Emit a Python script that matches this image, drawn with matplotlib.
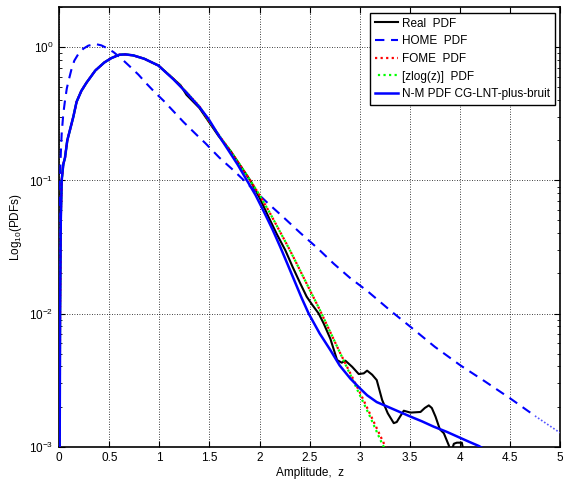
import numpy as np
import matplotlib
matplotlib.use("Agg")
import matplotlib.pyplot as plt
from matplotlib.ticker import LogLocator, FixedLocator, FuncFormatter

plt.rcParams['font.family'] = ['Liberation Sans', 'DejaVu Sans']
plt.rcParams['mathtext.fontset'] = 'custom'
plt.rcParams['mathtext.rm'] = 'Liberation Sans'
plt.rcParams['mathtext.it'] = 'Liberation Sans:italic'

# ---------------- data ----------------
real_x = [0.004, 0.008, 0.015, 0.024, 0.04, 0.057, 0.08, 0.107, 0.14, 0.173, 0.22, 0.27,
          0.36, 0.45, 0.52, 0.60, 0.66, 0.74, 0.85, 0.99, 1.14, 1.21, 1.27, 1.40, 1.49,
          1.59, 1.707, 1.80, 1.907, 2.0, 2.09, 2.17, 2.257, 2.33, 2.407, 2.47, 2.52,
          2.59, 2.64, 2.707, 2.774, 2.82, 2.857, 2.924, 2.99, 3.04, 3.074, 3.124, 3.17,
          3.224, 3.28, 3.34, 3.37, 3.39, 3.44, 3.507, 3.607, 3.65, 3.69, 3.72, 3.757,
          3.80, 3.84, 3.89, 3.91, 3.94, 3.97, 4.02, 4.04]
real_y = [0.001, 0.01, 0.05, 0.1, 0.132, 0.148, 0.2, 0.24, 0.30, 0.39, 0.47, 0.54,
          0.67, 0.77, 0.83, 0.88, 0.885, 0.87, 0.82, 0.73, 0.58, 0.52, 0.44, 0.35, 0.278,
          0.216, 0.168, 0.132, 0.10, 0.0741, 0.0531, 0.0398, 0.0299, 0.0224, 0.0168, 0.0134, 0.0118,
          0.0100, 0.00842, 0.00646, 0.00447, 0.00427, 0.00442, 0.00398, 0.00351, 0.00355, 0.00372, 0.00347, 0.00316,
          0.00224, 0.00178, 0.0015, 0.00153, 0.00162, 0.00186, 0.0018, 0.00182, 0.00195, 0.00204, 0.00195, 0.00168,
          0.00135, 0.00126, 0.00102, 0.00089, 0.00105, 0.00107, 0.00107, 0.00089]

home_x = [0.001, 0.003, 0.005, 0.007, 0.015, 0.024, 0.04, 0.057, 0.075, 0.09, 0.12, 0.15,
          0.19, 0.24, 0.29, 0.36, 0.42, 0.474, 0.54, 0.607, 0.70, 0.79, 0.874, 0.957,
          1.04, 1.14, 1.24, 1.374, 1.457, 1.6, 1.74, 1.9, 2.074, 2.25, 2.407, 2.58,
          2.74, 2.9, 3.074, 3.2, 3.307, 3.507, 3.75, 4.007, 4.25, 4.507, 4.75, 5.0]
home_y = [0.001, 0.01, 0.0398, 0.1, 0.158, 0.224, 0.316, 0.398, 0.49, 0.55, 0.676, 0.794,
          0.891, 0.977, 1.03, 1.06, 1.035, 0.989, 0.923, 0.841, 0.724, 0.624, 0.531, 0.457,
          0.398, 0.331, 0.275, 0.219, 0.191, 0.148, 0.119, 0.0912, 0.0684, 0.0519, 0.0403, 0.0309,
          0.0237, 0.0186, 0.0148, 0.0123, 0.0105, 0.00794, 0.00562, 0.00407, 0.00309, 0.00229, 0.0017, 0.00127]

fome_x = [0.004, 0.008, 0.015, 0.024, 0.04, 0.057, 0.08, 0.107, 0.14, 0.173, 0.22, 0.27,
          0.36, 0.45, 0.52, 0.60, 0.66, 0.74, 0.85, 0.99, 1.14, 1.27, 1.40, 1.5, 1.6,
          1.7, 1.8, 1.9, 2.0, 2.1, 2.2, 2.3, 2.4, 2.5, 2.6, 2.7, 2.8, 2.9, 3.0, 3.1,
          3.2, 3.3]
fome_y = [0.001, 0.01, 0.05, 0.1, 0.132, 0.148, 0.2, 0.24, 0.30, 0.39, 0.47, 0.54,
          0.67, 0.77, 0.83, 0.88, 0.885, 0.87, 0.82, 0.73, 0.58, 0.46, 0.36, 0.275, 0.216,
          0.170, 0.132, 0.102, 0.0776, 0.0575, 0.0417, 0.0302, 0.0214, 0.0151, 0.0107, 0.00741, 0.00513,
          0.00363, 0.00257, 0.00178, 0.00123, 0.00085]

zlog_x = [0.004, 0.008, 0.015, 0.024, 0.04, 0.057, 0.08, 0.107, 0.14, 0.173, 0.22, 0.27,
          0.36, 0.45, 0.52, 0.60, 0.66, 0.74, 0.85, 0.99, 1.14, 1.27, 1.40, 1.5, 1.6,
          1.7, 1.8, 1.9, 2.0, 2.1, 2.2, 2.3, 2.4, 2.5, 2.6, 2.7, 2.8, 2.9, 3.0, 3.1,
          3.2, 3.27]
zlog_y = [0.001, 0.01, 0.05, 0.1, 0.132, 0.148, 0.2, 0.24, 0.30, 0.39, 0.47, 0.54,
          0.67, 0.77, 0.83, 0.88, 0.885, 0.87, 0.82, 0.73, 0.58, 0.46, 0.36, 0.275, 0.216,
          0.170, 0.132, 0.102, 0.0776, 0.0575, 0.0417, 0.0302, 0.0214, 0.0151, 0.0107, 0.00741, 0.00513,
          0.00355, 0.00245, 0.0017, 0.00115, 0.00089]

nm_x = [0.004, 0.008, 0.015, 0.024, 0.04, 0.057, 0.08, 0.107, 0.14, 0.173, 0.22, 0.27,
        0.36, 0.45, 0.52, 0.60, 0.66, 0.74, 0.85, 0.99, 1.14, 1.27, 1.40, 1.49, 1.59,
        1.69, 1.78, 1.874, 1.96, 2.04, 2.13, 2.207, 2.28, 2.357, 2.42, 2.49, 2.60,
        2.707, 2.80, 2.907, 3.0, 3.074, 3.17, 3.274, 3.40, 3.507, 3.62, 3.74, 3.87,
        4.007, 4.10, 4.19, 4.22]
nm_y = [0.001, 0.01, 0.05, 0.1, 0.132, 0.148, 0.2, 0.24, 0.30, 0.39, 0.47, 0.54,
        0.67, 0.77, 0.83, 0.88, 0.885, 0.87, 0.82, 0.73, 0.575, 0.457, 0.355, 0.290, 0.219,
        0.168, 0.132, 0.10, 0.0776, 0.0589, 0.0427, 0.0316, 0.0234, 0.0170, 0.0131, 0.010, 0.00708,
        0.00531, 0.00407, 0.00324, 0.00275, 0.00243, 0.00216, 0.002, 0.00182, 0.00168, 0.00155, 0.00141, 0.00129,
        0.00116, 0.00108, 0.00101, 0.00098]

labels = ['Real  PDF', 'HOME  PDF', 'FOME  PDF', '[zlog(z)]  PDF', 'N-M PDF CG-LNT-plus-bruit']
x_ticks = [0, 0.5, 1, 1.5, 2, 2.5, 3, 3.5, 4, 4.5, 5]
y_ticks = [1e-3, 1e-2, 1e-1, 1e0]

# ---------------- figure ----------------
fig = plt.figure(figsize=(5.64, 4.83), dpi=100)
ax = fig.add_axes([0.1051, 0.0754, 0.8878, 0.9095])
ax.set_yscale('log')

blue = '#0000ff'
ax.plot(real_x, real_y, color='black', lw=1.5, label=labels[0], zorder=3)
hx = np.array(home_x); hy = np.array(home_y)
m1 = hx <= 4.75
m2 = hx >= 4.75
ax.plot(hx[m1], hy[m1], color=blue, lw=1.5, ls=(0, (4.5, 3.2)), label=labels[1], zorder=3)
ax.plot(hx[m2], hy[m2], color='#5555ff', lw=1.2, ls=(0, (1, 1.2)), zorder=3)
ax.plot(fome_x, fome_y, color='#ff0000', lw=1.6, ls=(0, (1, 1.5)), label=labels[2], zorder=3)
ax.plot(zlog_x, zlog_y, color='#00ff00', lw=1.6, ls=(1.2, (1, 1.5)), label=labels[3], zorder=3)
ax.plot(nm_x, nm_y, color=blue, lw=1.8, label=labels[4], zorder=4)

ax.set_xlim(0, 5)
ax.set_ylim(1e-3, 2)

ax.xaxis.set_major_locator(FixedLocator(x_ticks))
ax.set_xticklabels([('%g' % t) for t in x_ticks])
ax.yaxis.set_major_locator(FixedLocator(y_ticks))
ax.yaxis.set_minor_locator(LogLocator(base=10, subs=np.arange(2, 10), numticks=20))
ax.yaxis.set_major_formatter(FuncFormatter(lambda v, p: r'$10^{%d}$' % int(round(np.log10(v)))))
ax.yaxis.set_minor_formatter(FuncFormatter(lambda v, p: ''))

ax.tick_params(which='both', direction='in', top=True, right=True, labelsize=8.5, colors='black')
ax.tick_params(which='major', length=4, width=0.8, pad=4)
ax.tick_params(which='minor', length=2.5, width=0.6)

ax.grid(True, which='major', color='black', ls=(0, (1, 2)), lw=0.6)
for s in ax.spines.values():
    s.set_linewidth(1.2)

ax.set_xlabel('Amplitude,  z', fontsize=8.5, labelpad=2)
ax.set_ylabel(r'Log$_{10}$(PDFs)', fontsize=8.5, labelpad=4)

leg = ax.legend(loc='upper right', fontsize=8.5, frameon=True, fancybox=False,
                edgecolor='black', framealpha=1, borderaxespad=0.45,
                handlelength=1.9, handletextpad=0.35, labelspacing=0.48, borderpad=0.42)
leg.get_frame().set_linewidth(1.0)

fig.savefig('out.png', dpi=100)
